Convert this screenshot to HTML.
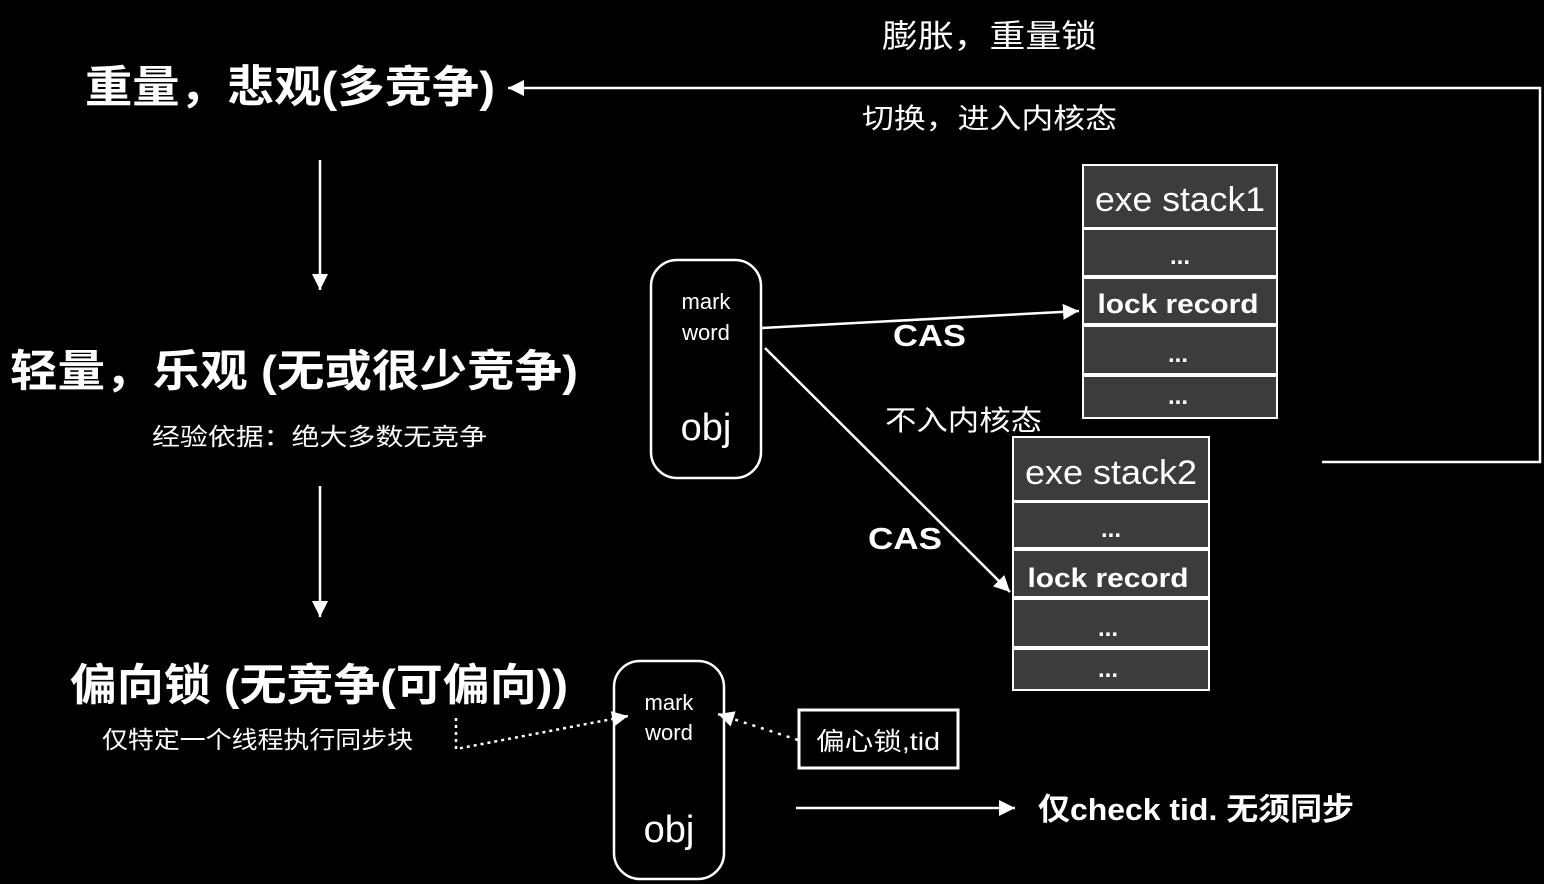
<!DOCTYPE html>
<html><head><meta charset="utf-8"><style>
html,body{margin:0;padding:0;background:#000;}
svg{display:block}
text{fill:#fff;font-family:"Liberation Sans","Noto Sans CJK SC",sans-serif;}
.b{font-weight:bold}
</style></head><body>
<svg width="1544" height="884" viewBox="0 0 1544 884">
<defs>
<marker id="m" viewBox="0 0 10 10" refX="10" refY="5" markerWidth="16" markerHeight="16" orient="auto" markerUnits="userSpaceOnUse"><path d="M0,0 L10,5 L0,10 z" fill="#fff"/></marker>
</defs>
<g stroke="#fff" stroke-width="2.5" fill="none">
<line x1="320" y1="160" x2="320" y2="290" marker-end="url(#m)"/>
<line x1="320" y1="486" x2="320" y2="617" marker-end="url(#m)"/>
<polyline points="1322,462 1540,462 1540,88 508,88" marker-end="url(#m)"/>
<line x1="762" y1="328" x2="1079" y2="311" marker-end="url(#m)"/>
<line x1="765" y1="348" x2="1010" y2="592" marker-end="url(#m)"/>
<line x1="796" y1="808" x2="1015" y2="808" marker-end="url(#m)"/>
<rect x="651" y="260" width="110" height="218" rx="26"/>
<rect x="614" y="661" width="110" height="218" rx="26"/>
<rect x="799" y="710" width="159" height="58" stroke-width="3"/>
<polyline points="456,718 456,749 628,716" stroke-dasharray="3,4" marker-end="url(#m)"/>
<line x1="798" y1="740" x2="718" y2="714" stroke-dasharray="3,6" marker-end="url(#m)"/>
</g>
<g fill="#3c3c3c" stroke="#fff" stroke-width="2">
<rect x="1083" y="165" width="194" height="63"/><rect x="1083" y="229" width="194" height="47"/><rect x="1083" y="278" width="194" height="46"/><rect x="1083" y="326" width="194" height="48"/><rect x="1083" y="376" width="194" height="42"/>
<rect x="1013" y="437" width="196" height="64"/><rect x="1013" y="502" width="196" height="46"/><rect x="1013" y="550" width="196" height="47"/><rect x="1013" y="599" width="196" height="48"/><rect x="1013" y="649" width="196" height="41"/>
</g>
<g text-anchor="middle">
<text x="1180" y="211" font-size="34" textLength="170" lengthAdjust="spacingAndGlyphs">exe stack1</text>
<text x="1180" y="264" font-size="24" class="b">...</text>
<text x="1178" y="313" font-size="27" class="b" textLength="161" lengthAdjust="spacingAndGlyphs">lock record</text>
<text x="1178" y="362" font-size="24" class="b">...</text>
<text x="1178" y="404" font-size="24" class="b">...</text>
<text x="1111" y="484" font-size="34" textLength="172" lengthAdjust="spacingAndGlyphs">exe stack2</text>
<text x="1111" y="537" font-size="24" class="b">...</text>
<text x="1108" y="587" font-size="27" class="b" textLength="161" lengthAdjust="spacingAndGlyphs">lock record</text>
<text x="1108" y="636" font-size="24" class="b">...</text>
<text x="1108" y="677" font-size="24" class="b">...</text>
<text x="706" y="309" font-size="22">mark</text>
<text x="706" y="340" font-size="22">word</text>
<text x="706" y="440" font-size="38">obj</text>
<text x="669" y="710" font-size="22">mark</text>
<text x="669" y="740" font-size="22">word</text>
<text x="669" y="842" font-size="38">obj</text>
<text x="878" y="750" font-size="25" textLength="124" lengthAdjust="spacingAndGlyphs">偏心锁,tid</text>
</g>
<text x="85" y="102" font-size="44" class="b" textLength="410" lengthAdjust="spacingAndGlyphs">重量，悲观(多竞争)</text>
<text x="10" y="386" font-size="44" class="b" textLength="568" lengthAdjust="spacingAndGlyphs">轻量，乐观 (无或很少竞争)</text>
<text x="152" y="445" font-size="24" textLength="335" lengthAdjust="spacingAndGlyphs">经验依据：绝大多数无竞争</text>
<text x="70" y="700" font-size="44" class="b" textLength="498" lengthAdjust="spacingAndGlyphs">偏向锁 (无竞争(可偏向))</text>
<text x="102" y="748" font-size="24" textLength="311" lengthAdjust="spacingAndGlyphs">仅特定一个线程执行同步块</text>
<text x="882" y="47" font-size="32" textLength="215" lengthAdjust="spacingAndGlyphs">膨胀，重量锁</text>
<text x="862" y="128" font-size="28" textLength="255" lengthAdjust="spacingAndGlyphs">切换，进入内核态</text>
<text x="893" y="346" font-size="31" class="b" textLength="73" lengthAdjust="spacingAndGlyphs">CAS</text>
<text x="885" y="430" font-size="28" textLength="157" lengthAdjust="spacingAndGlyphs">不入内核态</text>
<text x="868" y="549" font-size="31" class="b" textLength="74" lengthAdjust="spacingAndGlyphs">CAS</text>
<text x="1038" y="820" font-size="31" class="b" textLength="316" lengthAdjust="spacingAndGlyphs">仅check tid. 无须同步</text>
</svg>
</body></html>
